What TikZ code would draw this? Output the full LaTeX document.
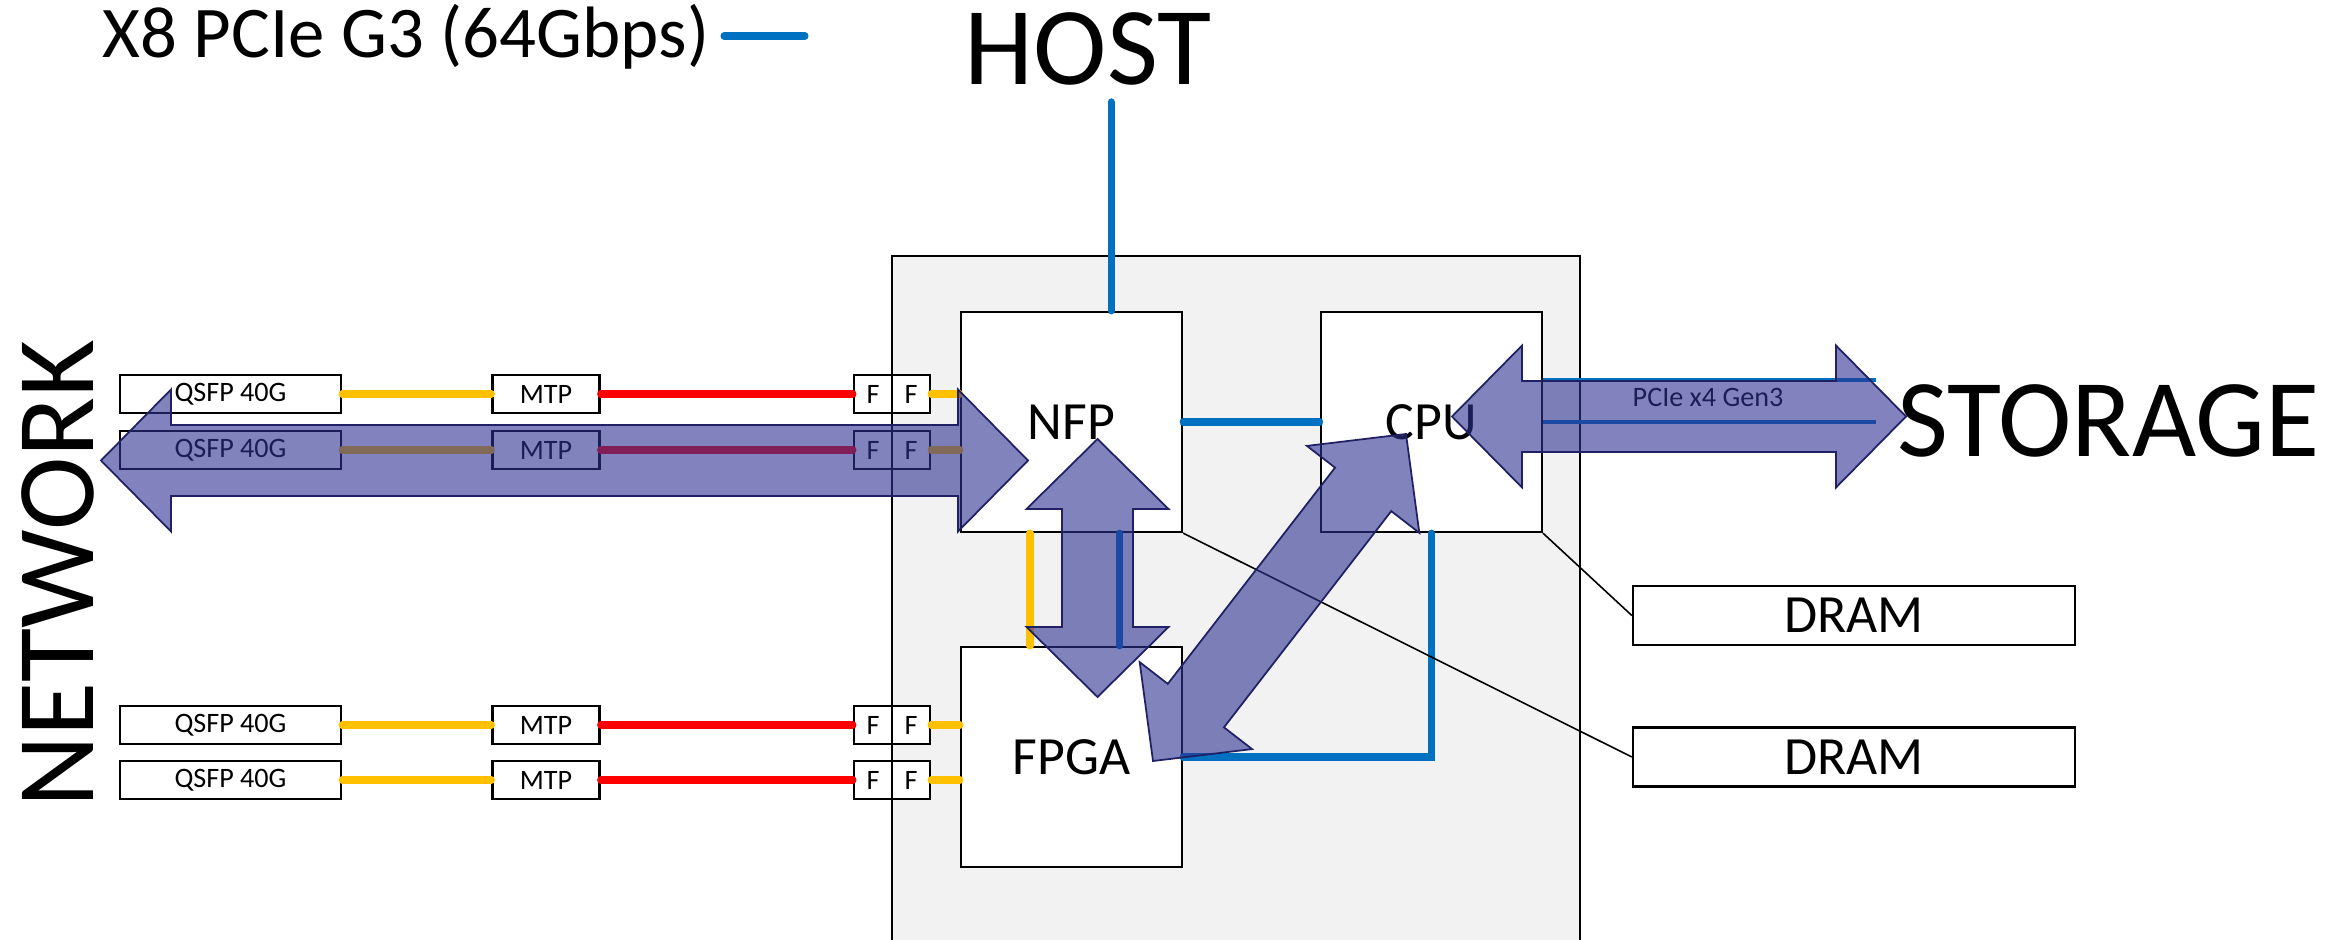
\documentclass[tikz,border=0pt]{standalone}
\usepackage{fontspec}
\setmainfont{Carlito}
\usetikzlibrary{calc,positioning}

\definecolor{pcieblue}{RGB}{0,112,192}
\definecolor{fibreyellow}{RGB}{255,192,0}
\definecolor{fibrered}{RGB}{255,0,0}
\definecolor{cardgray}{RGB}{242,242,242}
\definecolor{flowfill}{RGB}{46,49,146}
\definecolor{flowedge}{RGB}{32,33,100}

\begin{document}
\begin{tikzpicture}[
  x=0.01cm, y=-0.01cm,
  port/.style={draw, fill=white, line width=0.6pt, inner sep=0pt,
    minimum height=0.38cm, font=\fontsize{8}{9}\selectfont},
  chip/.style={draw, fill=white, line width=0.6pt, inner sep=0pt,
    minimum width=2.21cm, minimum height=2.2cm, font=\fontsize{15.3}{18}\selectfont},
  dram/.style={chip, minimum width=4.42cm, minimum height=0.59cm},
  label/.style={inner sep=0pt, font=\fontsize{31.5}{36}\selectfont},
  link/.style={line width=2pt, line cap=round},
  thinlink/.style={line width=1.1pt, pcieblue},
  fat/.style={fill=flowfill, fill opacity=0.6, draw=flowedge,
    line width=0.5pt, line join=miter}
]
\useasboundingbox (0,0) rectangle (2330,940);

% the card
\filldraw[fill=cardgray, draw=black, line width=0.6pt]
  (892,940) -- (892,256) -- (1580,256) -- (1580,940);

% chips and memory
\node[chip] (nfp) at (1071.5,422) {NFP};
\node[chip] (cpu) at (1431.3,422) {CPU};
\node[chip] (fpga) at (1071.5,757) {FPGA};
\node[dram] (dram1) at (1854,615.5) {DRAM};
\node[dram] (dram2) at (1854,757) {DRAM};

% titles
\node[inner sep=0pt, anchor=base west, font=\fontsize{20.7}{24}\selectfont]
  (legend) at (102,58) {X8 PCIe G3 (64Gbps)};
\node[label, anchor=base] (host) at (1088,85) {HOST};
\node[label, anchor=base west] (storage) at (1897,456) {STORAGE};
\node[label, anchor=base, rotate=90] (network) at (93,574) {NETWORK};
\node[inner sep=0pt, anchor=base, font=\fontsize{8}{9}\selectfont]
  (pcielabel) at (1708,407) {PCIe x4 Gen3};

% network ports
\foreach \i/\y/\t in {1/394/nfp, 2/450/nfp, 3/725/fpga, 4/780/fpga}{
  \node[port, minimum width=2.21cm] (qsfp\i) at (230.5,\y) {QSFP 40G};
  \node[port, minimum width=1.07cm] (mtp\i) at (546,\y) {MTP};
  \node[port, minimum width=0.38cm] (fa\i) at (873,\y) {F};
  \node[port, minimum width=0.38cm] (fb\i) at (911,\y) {F};
  \draw[link, fibreyellow] (qsfp\i) -- (mtp\i);
  \draw[link, fibrered] (mtp\i) -- (fa\i);
  \draw[link, fibreyellow] (fb\i) -- (fb\i -| \t.west);
}

% links
\draw[link, pcieblue] (724,36) -- (805,36);
\draw[link, pcieblue] ([xshift=0.395cm]nfp.north) -- ++(0,-209);
\draw[link, pcieblue] (nfp) -- (cpu);
\draw[link, pcieblue] (cpu.south) |- (fpga.east);
\draw[link, fibreyellow] ([xshift=-0.415cm]nfp.south) -- ([xshift=-0.415cm]fpga.north);
\draw[link, pcieblue] ([xshift=0.48cm]nfp.south) -- ([xshift=0.48cm]fpga.north);
\draw[thinlink] ([yshift=0.42cm]cpu.east) -- ++(333,0);
\draw[thinlink] (cpu.east) -- ++(333,0);
\draw[line width=0.45pt] (cpu.south east) -- (dram1.west);
\draw[line width=0.45pt] (nfp.south east) -- (dram2.west);

% data flows
\coordinate (netL) at (101,460.5);
\coordinate (netR) at (1028,460.5);
\coordinate (busT) at (1097.5,439);
\coordinate (busB) at (1097.5,697);
\coordinate (diagF) at (1153,761);
\coordinate (diagC) at (1406,434);
\coordinate (stoL) at (1452,416.5);
\coordinate (stoR) at (1906,416.5);
\foreach \a/\b in {netL/netR, busT/busB, diagF/diagC, stoL/stoR}{
  \coordinate (ha) at ($(\a)!0.7cm!(\b)$);
  \coordinate (hb) at ($(\b)!0.7cm!(\a)$);
  \filldraw[fat] (\a)
    -- ($(ha)!0.71cm!90:(\b)$) -- ($(ha)!0.355cm!90:(\b)$)
    -- ($(hb)!0.355cm!-90:(\a)$) -- ($(hb)!0.71cm!-90:(\a)$)
    -- (\b)
    -- ($(hb)!0.71cm!90:(\a)$) -- ($(hb)!0.355cm!90:(\a)$)
    -- ($(ha)!0.355cm!-90:(\b)$) -- ($(ha)!0.71cm!-90:(\b)$)
    -- cycle;
}
\end{tikzpicture}
\end{document}
